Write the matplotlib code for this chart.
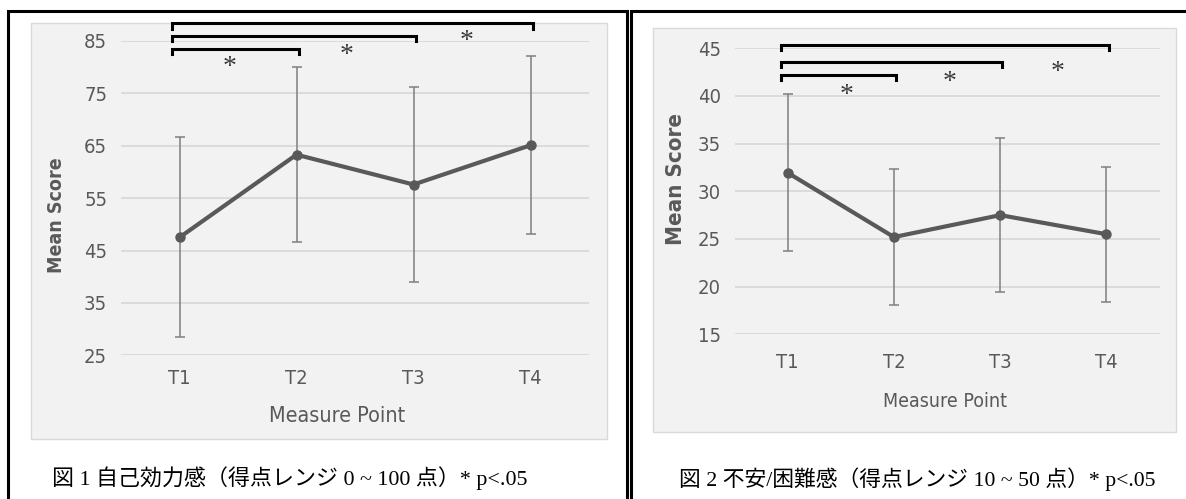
import matplotlib.pyplot as plt
from matplotlib.patches import Rectangle

# data
points = ["T1", "T2", "T3", "T4"]

eff_mean = [47.5, 63.3, 57.6, 65.1]
eff_sd = [19.1, 16.7, 18.65, 16.95]
eff_ticks = [25, 35, 45, 55, 65, 75, 85]

anx_mean = [31.95, 25.2, 27.5, 25.5]
anx_sd = [8.25, 7.15, 8.05, 7.1]
anx_ticks = [15, 20, 25, 30, 35, 40, 45]

comparisons = [(0, 1), (0, 2), (0, 3)]

cap_left = "図 1 自己効力感（得点レンジ 0 ~ 100 点）* p<.05"
cap_right = "図 2 不安/困難感（得点レンジ 10 ~ 50 点）* p<.05"

W, H = 1186, 499
SERIF_JP = ["Liberation Serif", "Noto Sans CJK JP"]
TXT = "#595959"
COND = dict(family="DejaVu Sans", fontstretch="condensed")

fig = plt.figure(figsize=(W / 100, H / 100), dpi=100)

# background layer in pixel coordinates
bg = fig.add_axes([0, 0, 1, 1], zorder=0)
bg.set_xlim(0, W)
bg.set_ylim(H, 0)
bg.axis("off")

# panel frames (double rule between the two panels)
for x0, x1 in [(8, 627), (631, W + 5)]:
    bg.plot([x0, x0, x1, x1], [H + 5, 11, 11, H + 5], color="black", lw=2.2,
            solid_joinstyle="miter")

# grey chart areas
bg.add_patch(Rectangle((31, 23), 576, 416, facecolor="#f2f2f2", edgecolor="#d9d9d9", lw=1))
bg.add_patch(Rectangle((653, 28), 523, 404, facecolor="#f2f2f2", edgecolor="#d9d9d9", lw=1))

bg.text(52, 478, cap_left, fontsize=15.8, family=SERIF_JP, va="center", ha="left")
bg.text(679, 479, cap_right, fontsize=15.7, family=SERIF_JP, va="center", ha="left")


def px_axes(x0, y0, x1, y1):
    return fig.add_axes([x0 / W, 1 - y1 / H, (x1 - x0) / W, (y1 - y0) / H], zorder=1)


def draw_panel(ax, mean, sd, ticks, levels, stars, xpad, xlab, ylab):
    x = list(range(len(points)))
    ax.set_facecolor("none")
    ax.errorbar(x, mean, yerr=sd, fmt="none", ecolor="#7f7f7f", elinewidth=1.1,
                capsize=3.5, capthick=1.1, zorder=2)
    ax.plot(x, mean, color="#595959", lw=3, marker="o", markersize=6.5, zorder=3)
    ax.set_xlim(-0.5, 3.5)
    ax.set_ylim(ticks[0], ticks[-1])
    ax.set_yticks(ticks)
    ax.set_xticks(x)
    ax.set_xticklabels(points)
    ax.grid(axis="y", color="#d9d9d9", lw=1.3)
    ax.set_axisbelow(True)
    for s in ax.spines.values():
        s.set_visible(False)
    ax.tick_params(length=0, labelcolor=TXT, labelsize=14.5)
    ax.tick_params(axis="y", pad=10)
    ax.tick_params(axis="x", pad=xpad)
    for lab in ax.get_xticklabels() + ax.get_yticklabels():
        lab.set_family(COND["family"])
        lab.set_fontstretch(COND["fontstretch"])
    ax.text(xlab[0], xlab[1], "Measure Point", transform=ax.transAxes,
            ha="center", va="center", fontsize=xlab[2], color=TXT, **COND)
    ax.text(ylab[0], ylab[1], "Mean Score", transform=ax.transAxes,
            rotation=90, ha="center", va="center", fontsize=ylab[2], color=TXT,
            fontweight="bold", **COND)
    # significance brackets
    span = ticks[-1] - ticks[0]
    drop = span * 0.017
    for (a, b), lev, (sx, sy) in zip(comparisons, levels, stars):
        ax.plot([a - 0.06, a - 0.06, b + 0.02, b + 0.02], [lev - drop, lev, lev, lev - drop],
                color="black", lw=2.2, clip_on=False, zorder=4,
                solid_joinstyle="miter")
        ax.text(sx, sy, "*", ha="center", va="center", fontsize=20, color="#3a3a3a",
                family="Liberation Serif", clip_on=False)


ax1 = px_axes(121, 41, 589, 355.3)
draw_panel(ax1, eff_mean, eff_sd, eff_ticks,
           levels=[83.5, 85.95, 88.4],
           stars=[(0.43, 80.0), (1.43, 82.3), (2.45, 85.0)],
           xpad=10, xlab=(0.4615, -0.192, 15.5), ylab=(-0.137, 0.446, 14))

ax2 = px_axes(734.5, 48.3, 1159.6, 334.3)
draw_panel(ax2, anx_mean, anx_sd, anx_ticks,
           levels=[42.2, 43.6, 45.35],
           stars=[(0.555, 40.0), (1.52, 41.4), (2.54, 42.5)],
           xpad=13.5, xlab=(0.496, -0.236, 14), ylab=(-0.1376, 0.543, 16))

fig.savefig("out.png", dpi=100)
